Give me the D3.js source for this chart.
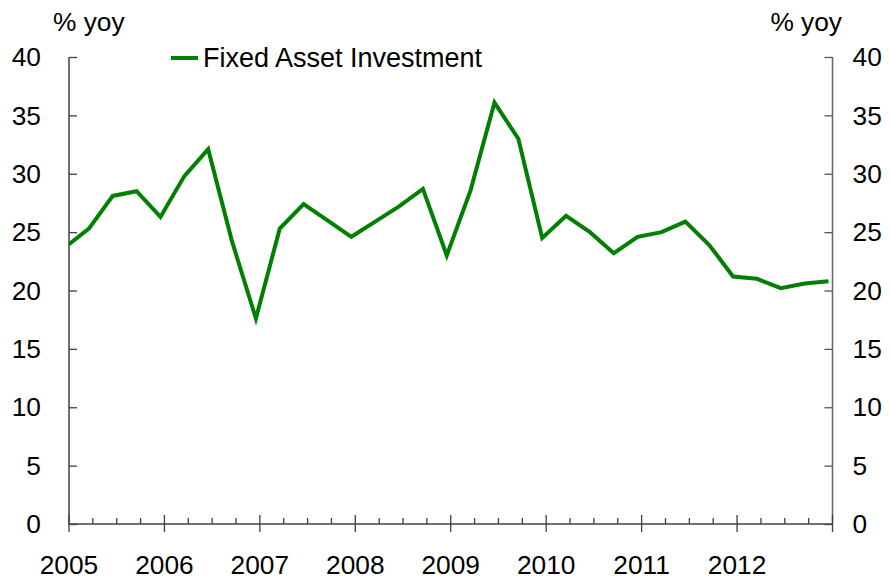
<!DOCTYPE html>
<html>
<head>
<meta charset="utf-8">
<script src="https://cdn.jsdelivr.net/npm/d3@7"></script>
<style>
  body { margin: 0; background: #fff; }
  svg { display: block; font-family: "Liberation Sans", Arial, sans-serif; }
</style>
</head>
<body>
<div id="chart"></div>
<script>
// Quarterly fixed asset investment growth, % yoy (2005 Q1 .. 2013 Q1)
const firstYear = 2005;
const fai = [23.7, 25.3, 28.1, 28.5, 26.3, 29.8, 32.1, 24.2, 17.6, 25.3, 27.4, 26.0,
             24.6, 25.9, 27.2, 28.7, 23.0, 28.6, 36.1, 33.0, 24.5, 26.4, 25.0, 23.2,
             24.6, 25.0, 25.9, 23.9, 21.2, 21.0, 20.2, 20.6, 20.8];
const yearTicks = [2005, 2006, 2007, 2008, 2009, 2010, 2011, 2012];
const yTicks = [0, 5, 10, 15, 20, 25, 30, 35, 40];
const seriesName = "Fixed Asset Investment";

const width = 890, height = 586;
const margin = { left: 69, right: 57.5, top: 57, bottom: 62 };
const fontSize = 26.3;

const svg = d3.select("#chart").append("svg")
  .attr("width", width)
  .attr("height", height);

const x = d3.scaleLinear()
  .domain([2005, 2013])
  .range([margin.left, width - margin.right]);

const y = d3.scaleLinear()
  .domain([0, 40])
  .range([height - margin.bottom, margin.top]);

// points sit half a month before each quarter mark
const points = fai.map((v, i) => ({ t: firstYear + i / 4 - 1 / 24, v }));

svg.append("clipPath").attr("id", "plot")
  .append("rect")
    .attr("x", x(2005)).attr("y", 0)
    .attr("width", x(2013) - x(2005)).attr("height", height);

// Left axis
const axisColor = "#404040";
const left = svg.append("g")
  .attr("transform", `translate(${x(2005)},0)`)
  .call(d3.axisRight(y).tickValues(yTicks).tickSize(8).tickFormat(""));
left.select(".domain").attr("stroke", axisColor).attr("stroke-width", 1.5).attr("d", `M0,${y(0)}V${y(40)}`);
left.selectAll(".tick line").attr("stroke", axisColor).attr("stroke-width", 1.3);

svg.append("g").selectAll("text")
  .data(yTicks)
  .join("text")
    .attr("x", 41)
    .attr("y", d => y(d))
    .attr("dy", "0.35em")
    .attr("text-anchor", "end")
    .attr("font-size", fontSize)
    .text(d => d);

// Right axis
const right = svg.append("g")
  .attr("transform", `translate(${x(2013)},0)`)
  .call(d3.axisLeft(y).tickValues(yTicks).tickSize(8).tickFormat(""));
right.select(".domain").attr("stroke", "#666").attr("stroke-width", 1.5).attr("d", `M0,${y(0)}V${y(40)}`);
right.selectAll(".tick line").attr("stroke", "#555").attr("stroke-width", 1.3);

svg.append("g").selectAll("text")
  .data(yTicks)
  .join("text")
    .attr("x", x(2013) + 20)
    .attr("y", d => y(d))
    .attr("dy", "0.35em")
    .attr("text-anchor", "start")
    .attr("font-size", fontSize)
    .text(d => d);

// Bottom axis: majors cross the line, quarterly minors stick up
const bottom = svg.append("g").attr("transform", `translate(0,${y(0)})`);
bottom.append("line")
  .attr("x1", x(2005)).attr("x2", x(2013))
  .attr("stroke", axisColor).attr("stroke-width", 1.5);

const quarters = d3.range(2005, 2013, 0.25).filter(q => q % 1 !== 0);
bottom.selectAll(".minor")
  .data(quarters)
  .join("line")
    .attr("class", "minor")
    .attr("x1", d => x(d)).attr("x2", d => x(d))
    .attr("y1", 0).attr("y2", -6)
    .attr("stroke", axisColor).attr("stroke-width", 1.3);

bottom.selectAll(".major")
  .data(yearTicks.concat([2013]))
  .join("line")
    .attr("class", "major")
    .attr("x1", d => x(d)).attr("x2", d => x(d))
    .attr("y1", -9).attr("y2", 8)
    .attr("stroke", axisColor).attr("stroke-width", 1.3);

bottom.selectAll("text")
  .data(yearTicks)
  .join("text")
    .attr("x", d => x(d))
    .attr("y", 50)
    .attr("text-anchor", "middle")
    .attr("font-size", fontSize)
    .text(d => d);

// Unit labels
svg.append("text")
  .attr("x", 53).attr("y", 31)
  .attr("font-size", fontSize)
  .text("% yoy");
svg.append("text")
  .attr("x", 842).attr("y", 31)
  .attr("text-anchor", "end")
  .attr("font-size", fontSize)
  .text("% yoy");

// Series line
const line = d3.line()
  .x(d => x(d.t))
  .y(d => y(d.v));

svg.append("path")
  .datum(points)
  .attr("clip-path", "url(#plot)")
  .attr("fill", "none")
  .attr("stroke", "#008000")
  .attr("stroke-width", 4)
  .attr("stroke-linejoin", "miter")
  .attr("d", line);

// Legend
const legend = svg.append("g").attr("transform", "translate(171,58)");
legend.append("line")
  .attr("x1", 0).attr("x2", 27)
  .attr("stroke", "#008000").attr("stroke-width", 4);
legend.append("text")
  .attr("x", 32).attr("y", 0)
  .attr("dy", "0.35em")
  .attr("font-size", 27)
  .text(seriesName);
</script>
</body>
</html>
